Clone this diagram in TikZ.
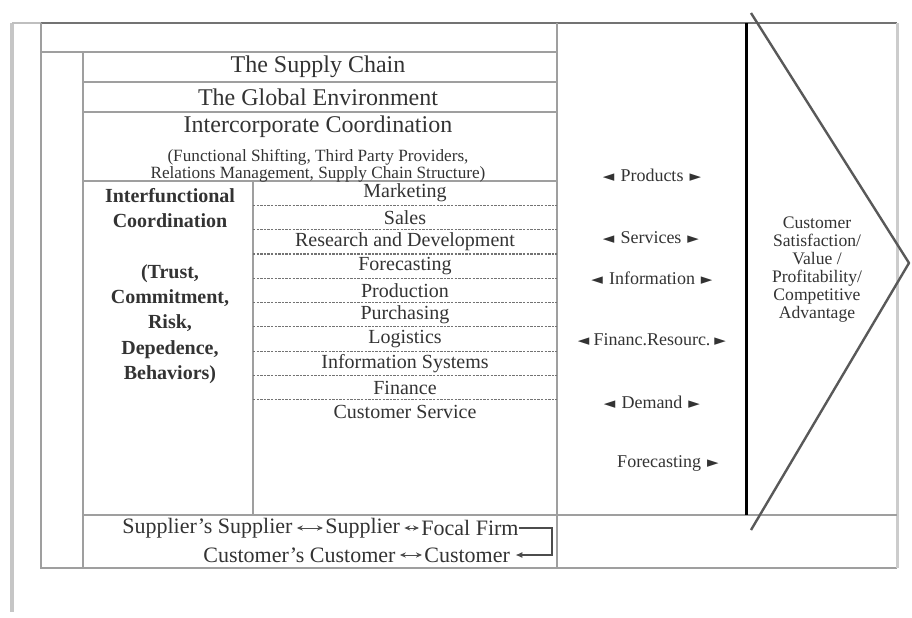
\documentclass[tikz,border=0pt]{standalone}
\usepackage{fontspec}
\setmainfont{Liberation Serif}
\newfontfamily\symfont{DejaVu Sans}
\usetikzlibrary{arrows.meta}
\newcommand\lftri{{\symfont\fontsize{7.5}{9}\selectfont ◄}}
\newcommand\rgttri{{\symfont\fontsize{7.5}{9}\selectfont ►}}
\begin{document}
\begin{tikzpicture}[x=0.5pt,y=-0.5pt,
  frame/.style={draw=gray!75, line width=1pt},
  sepline/.style={draw=black!55, line width=0.6pt, dash pattern=on 1.2pt off 0.6pt},
  ttl/.style={inner sep=0, text=black!80, font=\fontsize{12}{14}\selectfont},
  subttl/.style={inner sep=0, text=black!80, align=center, font=\fontsize{8.6}{8.6}\selectfont},
  fn/.style={inner sep=0, text=black!80, font=\fontsize{10}{12}\selectfont},
  lc/.style={inner sep=0, text=black!80, align=center, font=\bfseries\fontsize{10}{12.6}\selectfont},
  mid/.style={inner sep=0, text=black!80, font=\fontsize{9}{11}\selectfont},
  cs/.style={inner sep=0, text=black!80, align=center, font=\fontsize{8.8}{9}\selectfont},
  bt/.style={inner sep=0, text=black!80, anchor=west, font=\fontsize{11}{13}\selectfont},
  dbl/.style={{Stealth[length=3pt,width=2.6pt]}-{Stealth[length=3pt,width=2.6pt]}, draw=black!70, line width=0.5pt, shorten <=2pt, shorten >=1pt},
  elbow/.style={-{Latex[length=3.5pt,width=3pt]}, draw=black!70, line width=0.6pt, shorten >=2.5pt}
]
\useasboundingbox (0,0) rectangle (912,617);
% page edge
\draw[draw=gray!45, line width=2pt] (12,23) -- (12,612);
\draw[draw=gray!50, line width=1pt] (12,23) -- (41,23);
% frame
\draw[draw=black!55, line width=1.2pt] (41,23) -- (897,23);
\draw[frame] (41,23) -- (41,568) -- (897,568);
\draw[draw=gray!40, line width=1.5pt] (897,23) -- (897,568);
\draw[frame] (41,52) -- (557,52);
\draw[frame] (83,52) -- (83,568);
\draw[frame] (83,82) -- (557,82);
\draw[frame] (83,112) -- (557,112);
\draw[frame] (83,181) -- (557,181);
\draw[frame] (253,181) -- (253,515);
\draw[frame] (83,515) -- (897,515);
\draw[frame] (557,23) -- (557,568);
\draw[line width=1.5pt] (746,23) -- (746,515);
% chevron
\draw[draw=black!65, line width=1.2pt, line join=round] (751,13) -- (909,263) -- (751,530);
% function separators
\foreach \k in {1,...,9} \draw[sepline] (253,{181+24.3*\k}) -- (557,{181+24.3*\k});
% titles
\node[ttl] (sc) at (318,67) {The Supply Chain};
\node[ttl] (ge) at (318,97) {The Global Environment};
\node[ttl] (ic) at (318,127) {Intercorporate Coordination};
\node[subttl] (icsub) at (318,166) {(Functional Shifting, Third Party Providers,\\Relations Management, Supply Chain Structure)};
% interfunctional
\node[lc] (ifc) at (170,208) {Interfunctional\\Coordination};
\node[lc] (trust) at (170,324) {(Trust,\\Commitment,\\Risk,\\Depedence,\\Behaviors)};
% functions
\foreach \t [count=\i from 0] in {Marketing,Sales,Research and Development,Forecasting,Production,Purchasing,Logistics,Information Systems,Finance,Customer Service}
  \node[fn] (f\i) at (405,{181+24.3*(\i+0.5)}) {\t};
% flows
\node[mid] (prod) at (652,175) {\lftri\hspace{3pt}Products\hspace{3pt}\rgttri};
\node[mid] (serv) at (651,238) {\lftri\hspace{3pt}Services\hspace{3pt}\rgttri};
\node[mid] (info) at (652,278) {\lftri\hspace{3pt}Information\hspace{3pt}\rgttri};
\node[mid] (fin) at (652,340) {\lftri\hspace{2pt}Financ.Resourc.\hspace{2pt}\rgttri};
\node[mid] (dem) at (652,402) {\lftri\hspace{3pt}Demand\hspace{3pt}\rgttri};
\node[mid] (fore) at (668,463) {Forecasting\hspace{3pt}\rgttri};
% customer satisfaction
\node[cs] (cust) at (817,270) {Customer\\Satisfaction/\\Value /\\Profitability/\\Competitive\\Advantage};
% bottom chain
\node[bt] (ss) at (122,528) {Supplier's Supplier};
\node[bt] (sup) at (325,528) {Supplier};
\node[bt] (ff) at (421,528) {Focal Firm};
\node[bt] (cc) at (203,555) {Customer's Customer};
\node[bt] (cu) at (424,555) {Customer};
\coordinate (elb) at (552,541);
\draw[dbl] (ss) -- (sup);
\draw[dbl] (sup) -- (ff);
\draw[dbl] (cc) -- (cu);
\draw[elbow] (ff.east) -| (elb) |- (cu.east);
\end{tikzpicture}
\end{document}
